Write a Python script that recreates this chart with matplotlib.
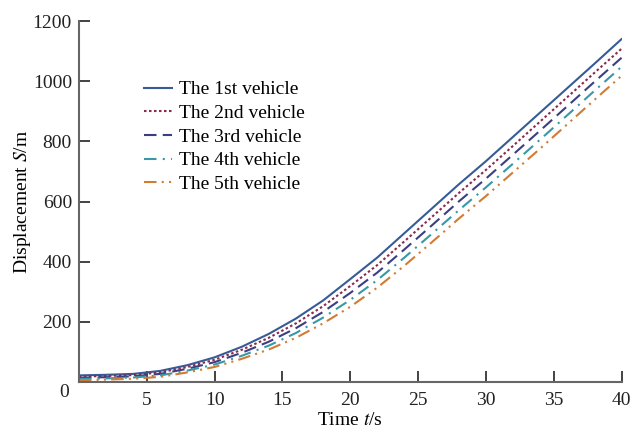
import matplotlib
matplotlib.use("Agg")
import matplotlib.pyplot as plt
import matplotlib.transforms as mtransforms

# Data
time_s = [0, 2, 4, 6, 8, 10, 12, 14, 16, 18, 20, 22, 24, 26, 28, 30, 32, 34, 36, 38, 40]
veh1 = [22, 24, 27, 37, 56, 82, 117, 160, 211, 271, 342, 414, 495, 576, 657, 734, 815, 896, 977, 1058, 1140]
veh2 = [18, 20, 23, 32, 50, 74, 107, 147, 195, 252, 319, 389, 468, 548, 628, 705, 785, 866, 947, 1028, 1108]
veh3 = [14, 16, 19, 27, 44, 66, 97, 134, 179, 233, 296, 364, 441, 520, 600, 676, 756, 836, 917, 998, 1078]
veh4 = [10, 12, 15, 22, 38, 58, 87, 121, 163, 214, 273, 339, 414, 492, 571, 647, 726, 806, 887, 968, 1048]
veh5 = [6, 8, 11, 17, 32, 50, 77, 108, 147, 195, 250, 314, 387, 464, 543, 618, 697, 776, 857, 938, 1018]
labels = ["The 1st vehicle", "The 2nd vehicle", "The 3rd vehicle", "The 4th vehicle", "The 5th vehicle"]
xticks = [0, 5, 10, 15, 20, 25, 30, 35, 40]
yticks = [0, 200, 400, 600, 800, 1000, 1200]

plt.rcParams['font.family'] = ['Liberation Serif', 'DejaVu Serif']
plt.rcParams['mathtext.fontset'] = 'stix'
plt.rcParams['font.size'] = 14

fig = plt.figure(figsize=(6.31, 4.30), dpi=100)
ax = fig.add_axes([0.125, 0.1116, 0.860, 0.8394])

styles = [
    dict(color="#365b96", linestyle="-"),
    dict(color="#8a2a4c", linestyle=(0, (1.2, 1.2))),
    dict(color="#3b3f82", linestyle=(0, (6, 3))),
    dict(color="#3898a8", linestyle=(0, (6, 3, 1, 3))),
    dict(color="#d27b33", linestyle=(0, (6, 2.5, 1, 2.5, 1, 2.5))),
]
for data, lab, st in zip([veh1, veh2, veh3, veh4, veh5], labels, styles):
    ax.plot(time_s, data, lw=1.5, label=lab, **st)

ax.set_xlim(0, 40)
ax.set_ylim(0, 1200)
ax.set_xticks(xticks)
ax.set_xticklabels([""] + [str(v) for v in xticks[1:]])
ax.set_yticks(yticks)
ax.tick_params(direction='in', length=8, width=1.2, colors='#222222', labelsize=14)
ax.tick_params(axis='x', pad=7)
ax.tick_params(axis='y', pad=5)
for s in ['top', 'right']:
    ax.spines[s].set_visible(False)
for s in ['left', 'bottom']:
    ax.spines[s].set_color('#666666')
    ax.spines[s].set_linewidth(1.5)

# shift the "0" label slightly down-left like the reference
zero_lbl = ax.get_yticklabels()[0]
zero_lbl.set_transform(zero_lbl.get_transform() +
                       mtransforms.ScaledTranslation(-2 / 72, -6 / 72, fig.dpi_scale_trans))

ax.set_xlabel("Time $t$/s", fontsize=14, labelpad=2)
ax.set_ylabel("Displacement $S$/m", fontsize=14, labelpad=0)

leg = ax.legend(loc='upper left', bbox_to_anchor=(0.105, 0.856), frameon=False,
                handlelength=1.45, handletextpad=0.35, labelspacing=0.31,
                fontsize=14, borderaxespad=0)

fig.savefig("out.png", dpi=100)
